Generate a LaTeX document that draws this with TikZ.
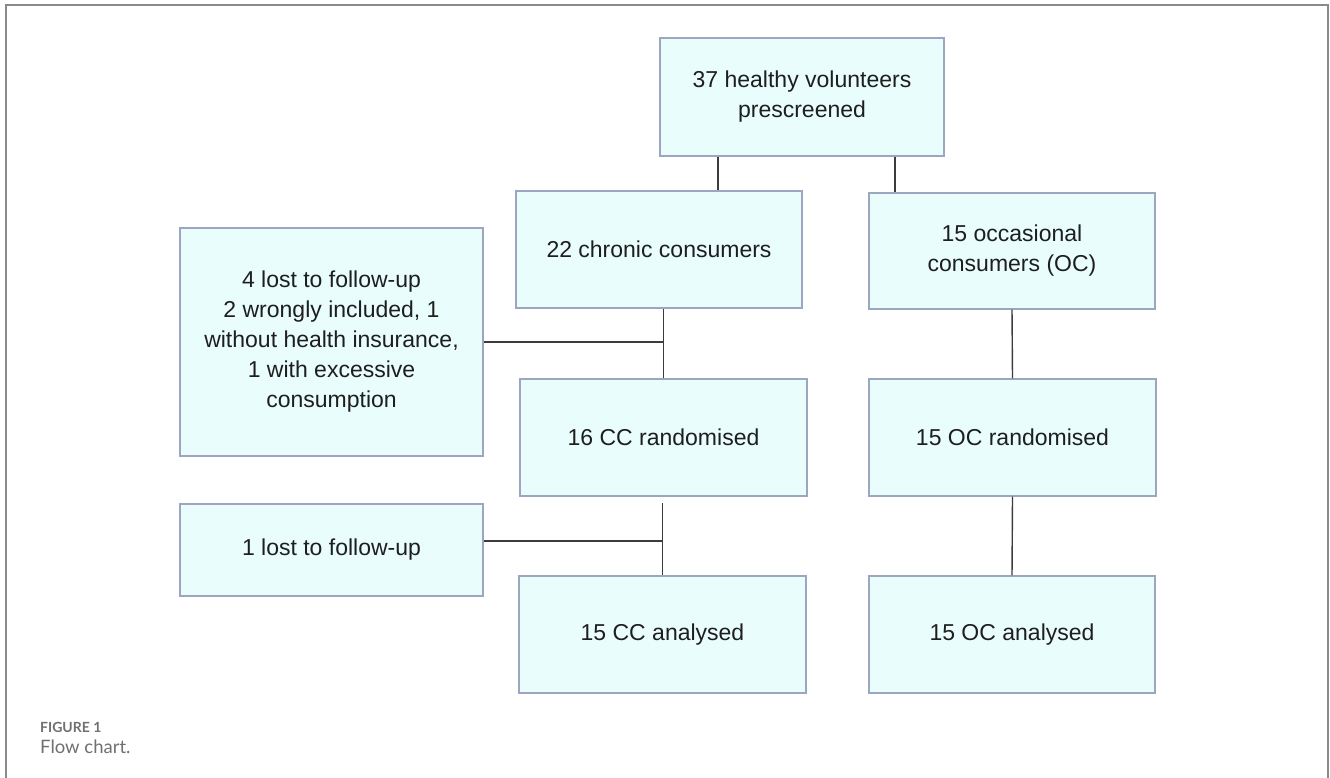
\documentclass[tikz,border=0pt]{standalone}
\usepackage{fontspec}
\setmainfont{Liberation Sans}
\newfontfamily\capfont{Lato}
\definecolor{boxfill}{HTML}{E9FDFD}
\definecolor{boxline}{HTML}{9CA6C0}
\definecolor{conn}{HTML}{3C3C3C}
\definecolor{frame}{HTML}{8A8A8A}
\definecolor{captxt}{HTML}{707070}
\definecolor{txt}{HTML}{1E1E1E}
\begin{document}
\begin{tikzpicture}[x=1pt,y=-1pt,
  fbox/.style={draw=boxline, line width=1.4pt, fill=boxfill, text=txt,
    align=center, inner sep=0pt, font=\fontsize{23}{30}\selectfont},
  link/.style={draw=conn, line width=1.4pt},
  hlink/.style={draw=conn, line width=2pt}]
\useasboundingbox (0,0) rectangle (1330,778);
\fill[white] (0,0) rectangle (1330,778);
\draw[frame, line width=2pt] (6,778) -- (6,5) -- (1328,5) -- (1328,778);

\node[fbox, minimum width=284pt, minimum height=118pt] (a) at (802,97) {37 healthy volunteers\\prescreened};
\node[fbox, minimum width=286pt, minimum height=117pt] (b) at (659,249.5) {22 chronic consumers};
\node[fbox, minimum width=286pt, minimum height=116pt] (c) at (1012,251) {15 occasional\\consumers (OC)};
\node[fbox, minimum width=303pt, minimum height=228pt] (d) at (331.5,342) {4 lost to follow-up\\2 wrongly included, 1\\without health insurance,\\1 with excessive\\consumption};
\node[fbox, minimum width=287pt, minimum height=117pt] (e) at (663.5,437.5) {16 CC randomised};
\node[fbox, minimum width=287pt, minimum height=117pt] (f) at (1012.5,437.5) {15 OC randomised};
\node[fbox, minimum width=303pt, minimum height=92pt] (g) at (331.5,550) {1 lost to follow-up};
\node[fbox, minimum width=287pt, minimum height=117pt] (h) at (662.5,634.5) {15 CC analysed};
\node[fbox, minimum width=286pt, minimum height=117pt] (i) at (1012,634.5) {15 OC analysed};

\coordinate (gj) at ([yshift=9pt]g.east);
\draw[link] ([xshift=-84pt]a.south) -- ([xshift=-84pt]a.south |- b.north);
\draw[link] ([xshift=93pt]a.south) -- ([xshift=93pt]a.south |- c.north);
\draw[link] (e.north |- b.south) -- (e.north);
\draw[hlink] (d.east) -- (e.north |- d.east);
\draw[link] (c.south) -- (f.north);
\draw[link] (h.north |- g.north) -- (h.north);
\draw[hlink] (gj) -- (h.north |- gj);
\draw[link] (f.south) -- (i.north);

\node[anchor=base west, inner sep=0pt, text=captxt, font=\capfont\bfseries\fontsize{14}{16}\selectfont] (cap1) at (40,732) {FIGURE 1};
\node[anchor=base west, inner sep=0pt, text=captxt, font=\capfont\fontsize{18.5}{20}\selectfont] (cap2) at (40,753) {Flow chart.};
\end{tikzpicture}
\end{document}
